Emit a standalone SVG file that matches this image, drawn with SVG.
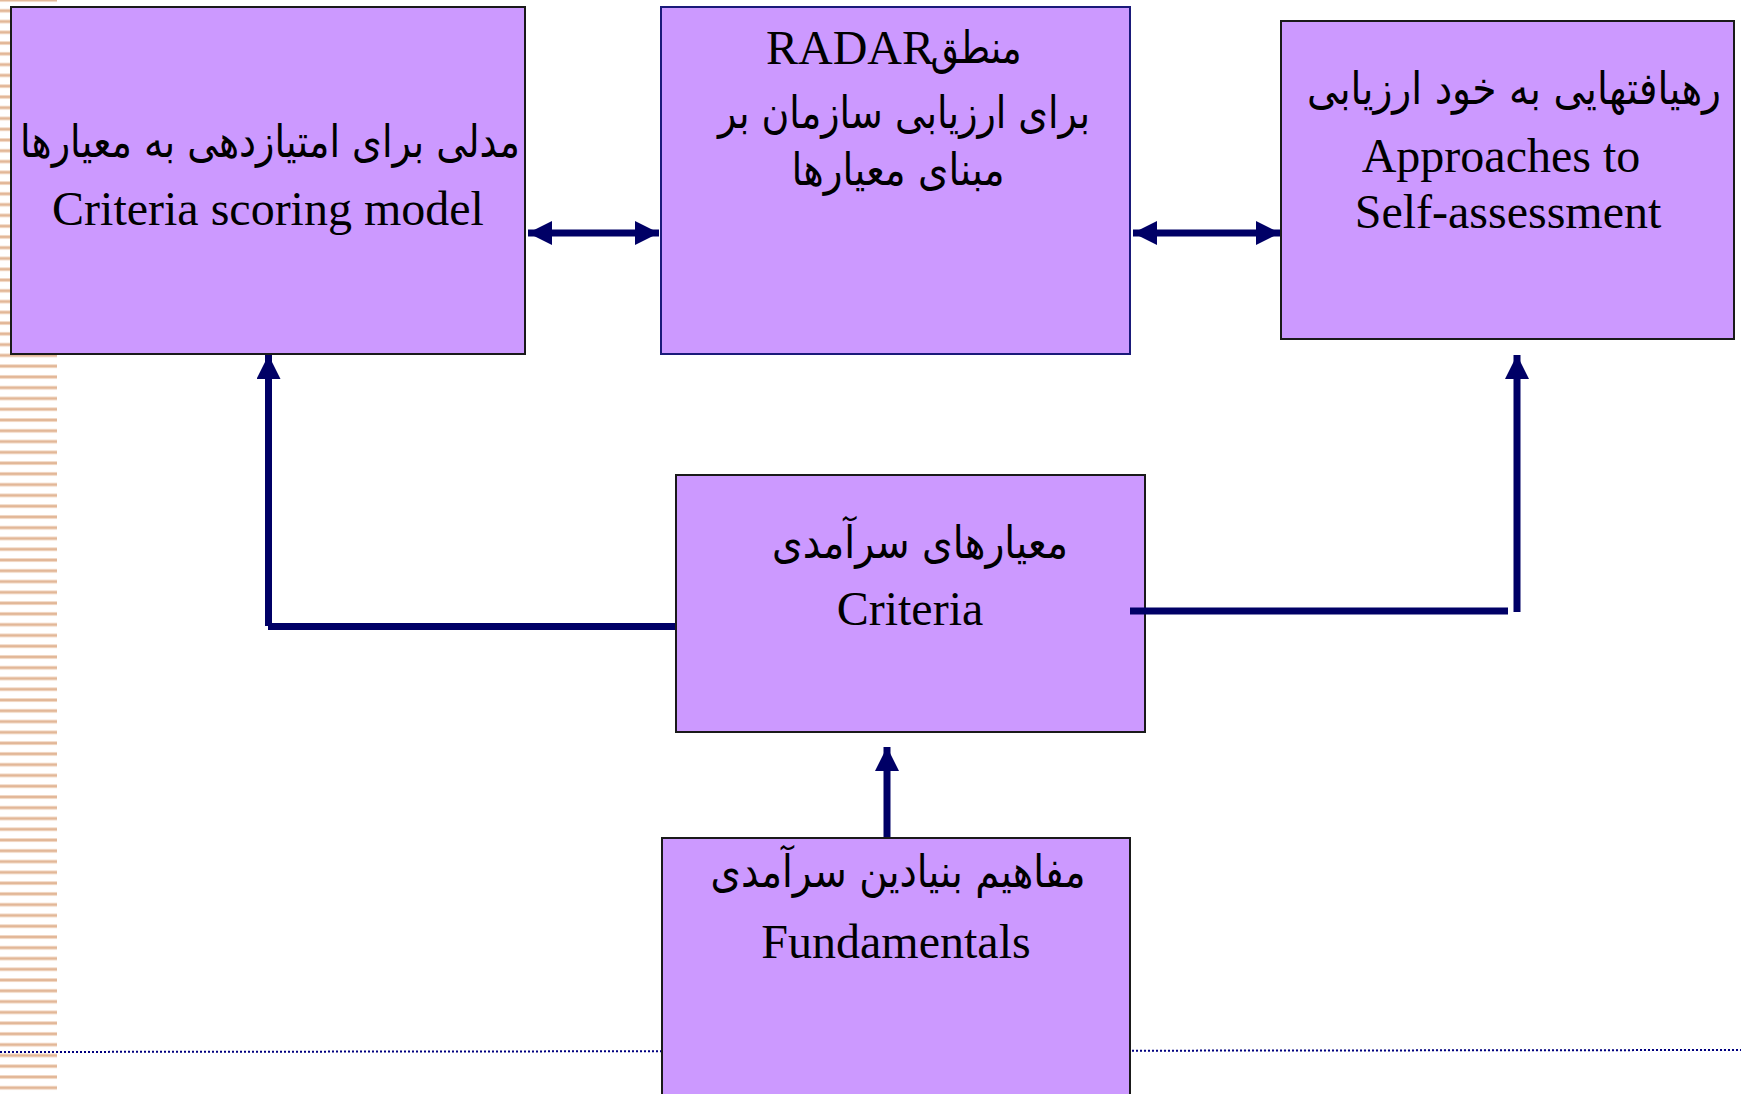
<svg xmlns="http://www.w3.org/2000/svg" width="1741" height="1094" viewBox="0 0 1741 1094">
  <style>
    .box { fill: #cc99ff; stroke: #1a1a1a; stroke-width: 2; }
    .box-blue { stroke: #1a1a7a; }
    .en { font-family: "Liberation Serif", "Times New Roman", serif; font-size: 48px; fill: #000; text-anchor: middle; }
    .fa { font-family: "DejaVu Sans", "Liberation Serif", sans-serif; font-size: 45px; fill: #000; text-anchor: middle; direction: rtl; }
    .link { stroke: #000066; stroke-width: 7; fill: none; }
    .dots { stroke: #000080; stroke-width: 2; stroke-dasharray: 2 2; fill: none; }
  </style>
  <defs>
    <pattern id="stripes" patternUnits="userSpaceOnUse" x="0" y="-2" width="57" height="10.77">
      <rect x="0" y="0" width="57" height="4" fill="#f2d9c6"/>
      <rect x="0" y="1" width="57" height="2" fill="#e2b797"/>
    </pattern>
    <marker id="head" markerUnits="userSpaceOnUse" markerWidth="24" markerHeight="24" refX="24" refY="12" orient="auto-start-reverse">
      <path d="M0,0 L24,12 L0,24 Z" fill="#000066"/>
    </marker>
  </defs>

  <!-- decorative side stripes -->
  <rect x="0" y="0" width="57" height="1094" fill="url(#stripes)"/>

  <!-- dotted footer rule -->
  <line class="dots" x1="0" y1="1052" x2="1741" y2="1050"/>

  <g id="scoring-model">
    <rect class="box" x="11" y="7" width="514" height="347"/>
    <text class="fa" x="270" y="157" textLength="500" lengthAdjust="spacingAndGlyphs">مدلی برای امتیازدهی به معیارها</text>
    <text class="en" x="268" y="225">Criteria scoring model</text>
  </g>

  <g id="radar-logic">
    <rect class="box box-blue" x="661" y="7" width="469" height="347"/>
    <text class="en" x="850" y="64">RADAR</text>
    <text class="fa" x="976" y="63" textLength="91" lengthAdjust="spacingAndGlyphs">منطق</text>
    <text class="fa" x="904" y="128" textLength="372" lengthAdjust="spacingAndGlyphs">برای ارزیابی سازمان بر</text>
    <text class="fa" x="898" y="185" textLength="213" lengthAdjust="spacingAndGlyphs">مبنای معیارها</text>
  </g>

  <g id="self-assessment">
    <rect class="box" x="1281" y="21" width="453" height="318"/>
    <text class="fa" x="1514" y="104" textLength="414" lengthAdjust="spacingAndGlyphs">رهیافتهایی به خود ارزیابی</text>
    <text class="en" x="1501" y="172">Approaches to</text>
    <text class="en" x="1508" y="228">Self-assessment</text>
  </g>

  <g id="criteria">
    <rect class="box" x="676" y="475" width="469" height="257"/>
    <text class="fa" x="920" y="558" textLength="296" lengthAdjust="spacingAndGlyphs">معیارهای سرآمدی</text>
    <text class="en" x="910" y="625">Criteria</text>
  </g>

  <g id="fundamentals">
    <rect class="box" x="662" y="838" width="468" height="300"/>
    <text class="fa" x="898" y="887" textLength="375" lengthAdjust="spacingAndGlyphs">مفاهیم بنیادین سرآمدی</text>
    <text class="en" x="896" y="958">Fundamentals</text>
  </g>

  <!-- connectors, drawn over the boxes -->
  <g id="connectors">
    <line class="link" x1="528" y1="233" x2="659" y2="233" marker-start="url(#head)" marker-end="url(#head)"/>
    <line class="link" x1="1133" y1="233" x2="1280" y2="233" marker-start="url(#head)" marker-end="url(#head)"/>
    <!-- criteria to scoring model -->
    <line class="link" x1="675" y1="626.5" x2="268" y2="626.5"/>
    <line class="link" x1="268.5" y1="626" x2="268.5" y2="355" marker-end="url(#head)"/>
    <!-- criteria to self-assessment -->
    <line class="link" x1="1130" y1="611" x2="1508" y2="611"/>
    <line class="link" x1="1517" y1="612" x2="1517" y2="355" marker-end="url(#head)"/>
    <!-- fundamentals to criteria -->
    <line class="link" x1="887" y1="837" x2="887" y2="747" marker-end="url(#head)"/>
  </g>
</svg>
